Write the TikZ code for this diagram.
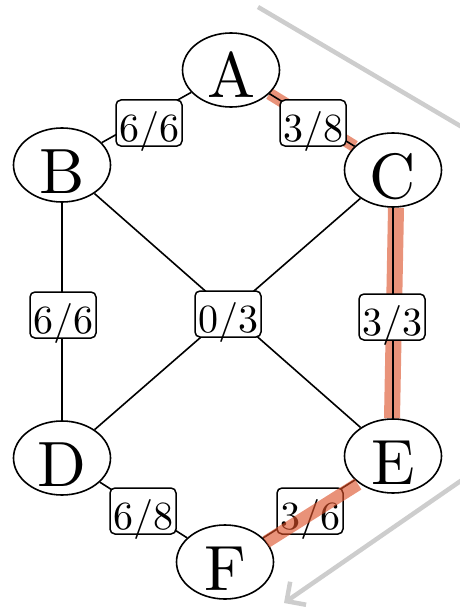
\documentclass[tikz,border=0pt]{standalone}
\usepackage{fontspec}
\newfontfamily\lmten{lmroman10-regular.otf}
\usetikzlibrary{shapes.geometric,arrows.meta}
\definecolor{hl}{RGB}{220,80,40}
\definecolor{gr}{RGB}{205,205,205}
\pgfdeclarelayer{bg}
\pgfsetlayers{bg,main}
\newcommand\vlett[1]{\raisebox{-28pt}[0pt][0pt]{#1}}
\newcommand\elab[1]{\raisebox{-18pt}[0pt][0pt]{#1}}
\begin{document}
\begin{tikzpicture}[x=1pt,y=-1pt,
  vert/.style={ellipse,draw,line width=1.6pt,fill=white,minimum width=97pt,minimum height=74pt,inner sep=0pt,font=\lmten\fontsize{64}{64}\selectfont},
  lbl/.style={draw,rounded corners=5pt,fill=white,line width=1.5pt,minimum width=66pt,minimum height=46pt,inner sep=0pt,font=\lmten\fontsize{40}{40}\selectfont},
  edge/.style={line width=1.6pt},
  hlt/.style={line width=12pt,hl,opacity=0.62},
  guide/.style={line width=4.5pt,gr}]
\useasboundingbox (0,0) rectangle (459,607);
% guide lines
\coordinate (g1) at (258,7);
\coordinate (g2) at (462,127);
\coordinate (g3) at (462,480);
\coordinate (g4) at (284,603);
\draw[guide] (g1) -- (g2);
\draw[guide,-{Straight Barb[length=14pt,width=28pt]}] (g3) -- (g4);
% vertices
\node[vert] (A) at (231,70) {\vlett{A}};
\node[vert] (B) at (62,165) {\vlett{B}};
\node[vert] (C) at (393,170) {\vlett{C}};
\node[vert] (D) at (62,458) {\vlett{D}};
\node[vert] (E) at (393,456) {\vlett{E}};
\node[vert] (F) at (225,562) {\vlett{F}};
% edges
\begin{pgfonlayer}{bg}
\draw[hlt] (A) -- (C);
\draw[hlt,line width=16pt] ([xshift=3pt]C.south) -- ([xshift=-1pt]E.north);
\draw[edge] (A) -- (B);
\draw[edge] (A) -- (C);
\draw[edge] (B) -- (D);
\draw[edge] (C) -- (E);
\draw[edge] (D) -- (F);
\draw[edge] (E) -- (F);
\draw[edge] (B) -- (E);
\draw[edge] (C) -- (D);
\end{pgfonlayer}
% labels
\node[lbl] (lAB) at (149,123) {\elab{6/6}};
\node[lbl] (lAC) at (313,123) {\elab{3/8}};
\node[lbl] (lBD) at (63,315) {\elab{6/6}};
\node[lbl] (lM) at (228,314) {\elab{0/3}};
\node[lbl] (lCE) at (392,317) {\elab{3/3}};
\node[lbl] (lDF) at (143,511) {\elab{6/8}};
\node[lbl] (lEF) at (310,511) {\elab{3/6}};
% highlight drawn over the E-F label
\draw[hlt,line width=13pt,transform canvas={shift={(3pt,-4pt)}}] (E) -- (F);
\end{tikzpicture}
\end{document}
